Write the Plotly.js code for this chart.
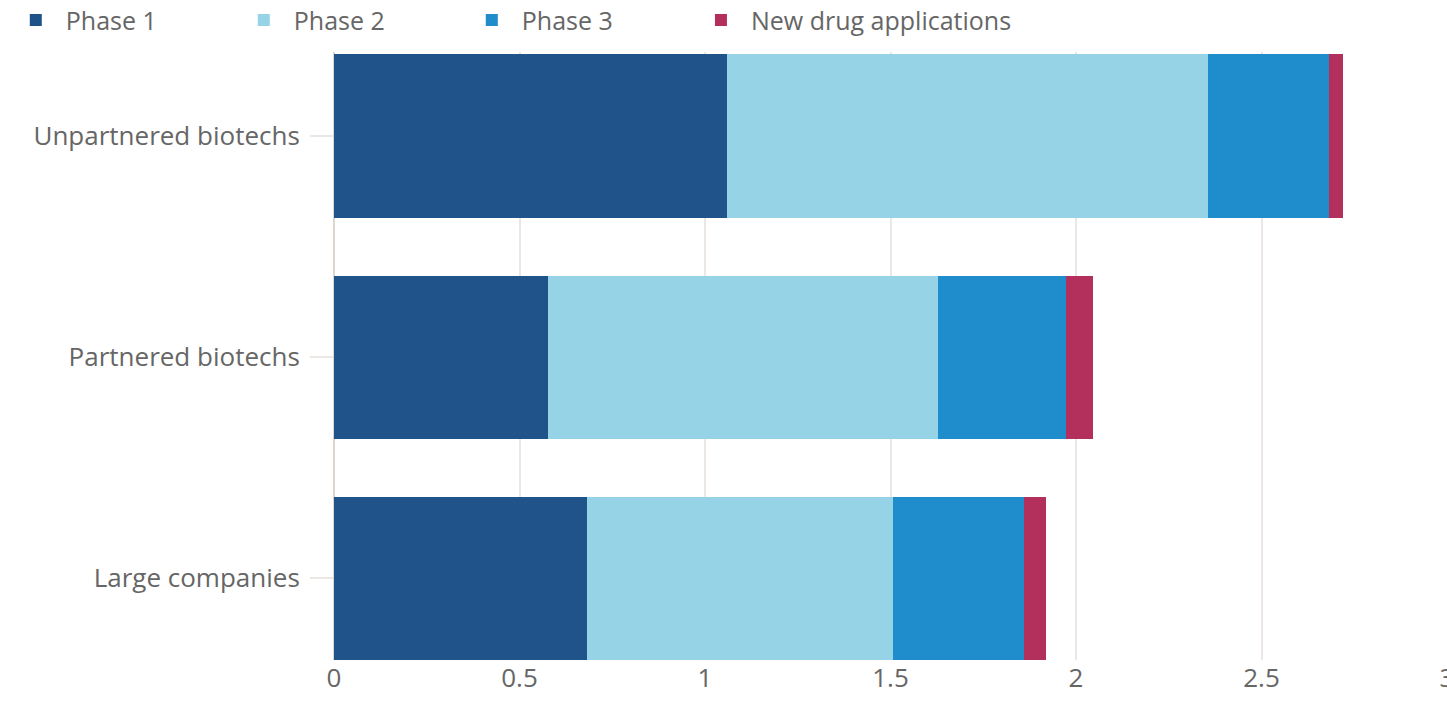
<!DOCTYPE html>
<html>
<head>
<meta charset="utf-8">
<script src="https://cdn.plot.ly/plotly-3.0.1.min.js"></script>
<style>html,body{margin:0;padding:0;background:#fff;}#chart{width:1447px;height:701px;}</style>
</head>
<body>
<div id="chart"></div>
<script>
const categories = ["Large companies", "Partnered biotechs", "Unpartnered biotechs"];
const seriesNames = ["Phase 1", "Phase 2", "Phase 3", "New drug applications"];
const phase1 = [0.683, 0.577, 1.058];
const phase2 = [0.823, 1.050, 1.298];
const phase3 = [0.353, 0.345, 0.326];
const newDrugApplications = [0.059, 0.073, 0.038];
const xTickValues = [0, 0.5, 1, 1.5, 2, 2.5, 3];
const xTickLabels = ["0", "0.5", "1", "1.5", "2", "2.5", "3"];

const colors = ["#20538a", "#96d3e6", "#1f8dcc", "#b3305c"];
const values = [phase1, phase2, phase3, newDrugApplications];
const legendIds = ["legend", "legend", "legend", "legend2"];

const traces = values.map((v, i) => ({
  type: "bar",
  orientation: "h",
  name: seriesNames[i],
  x: v,
  y: categories,
  legend: legendIds[i],
  marker: {color: colors[i], line: {width: 0}},
  hoverinfo: "x+name"
}));

const fam = "'Open Sans', sans-serif";
const grey = "#666666";

const legendBase = {
  orientation: "h",
  xref: "container",
  xanchor: "left",
  y: 0.971,
  yref: "container",
  yanchor: "middle",
  itemwidth: 50,
  traceorder: "normal",
  font: {family: fam, size: 25, color: grey},
  itemclick: false,
  itemdoubleclick: false
};

const layout = {
  width: 1447,
  height: 701,
  barmode: "stack",
  bargap: 0.262,
  paper_bgcolor: "#ffffff",
  plot_bgcolor: "#ffffff",
  font: {family: fam, size: 25, color: grey},
  margin: {l: 334, r: 0, t: 52, b: 41, pad: 0, autoexpand: false},
  showlegend: true,
  legend: Object.assign({}, legendBase, {
    x: 0.004,
    entrywidth: 163,
    entrywidthmode: "pixels"
  }),
  legend2: Object.assign({}, legendBase, {
    x: 0.4775
  }),
  xaxis: {
    range: [0, 3],
    tickvals: xTickValues,
    ticktext: xTickLabels,
    showgrid: true,
    gridcolor: "#ece7e3",
    gridwidth: 1.5,
    zeroline: true,
    zerolinecolor: "#ddd6d0",
    zerolinewidth: 2,
    showline: false,
    ticks: "",
    ticklabeloverflow: "allow",
    tickfont: {family: fam, size: 26, color: grey},
    fixedrange: true
  },
  yaxis: {
    type: "category",
    categoryorder: "array",
    categoryarray: categories,
    range: [-0.37, 2.38],
    showgrid: false,
    zeroline: false,
    showline: false,
    ticks: "outside",
    ticklen: 23,
    tickwidth: 2,
    tickcolor: "#ece7e3",
    ticklabelstandoff: 5,
    tickfont: {family: fam, size: 26, color: grey},
    fixedrange: true
  }
};

Plotly.newPlot("chart", traces, layout, {displayModeBar: false});
</script>
</body>
</html>
